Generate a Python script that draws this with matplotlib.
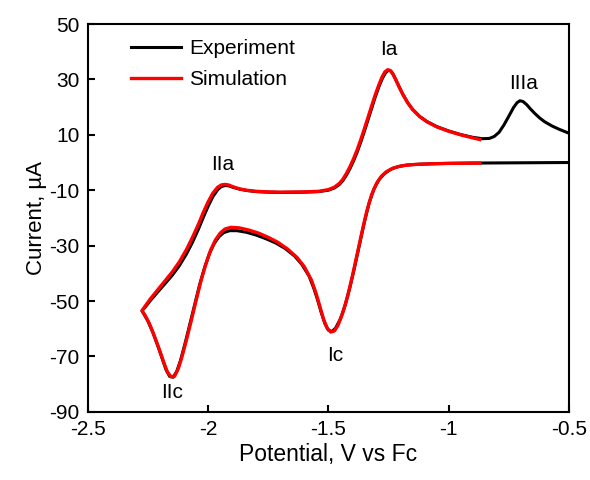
import matplotlib
matplotlib.use('Agg')
from matplotlib import pyplot as plt

plt.rcParams['font.family'] = ['Liberation Sans', 'DejaVu Sans']
plt.rcParams['axes.unicode_minus'] = False

# Experiment: cathodic sweep from -0.5 V to the vertex, then back
exp_x = [-0.50, -0.70, -0.90, -1.05, -1.12, -1.17, -1.20, -1.23, -1.25, -1.27, -1.29, -1.31, -1.33,
         -1.35, -1.37, -1.39, -1.41, -1.43, -1.45, -1.47, -1.485, -1.50, -1.515, -1.53, -1.545,
         -1.56, -1.58, -1.61, -1.64, -1.68, -1.72, -1.76, -1.80, -1.84, -1.88, -1.91, -1.935,
         -1.955, -1.975, -1.995, -2.015, -2.035, -2.055, -2.075, -2.095, -2.115, -2.13, -2.145,
         -2.16, -2.175, -2.19, -2.21, -2.23, -2.25, -2.265, -2.275,
         -2.26, -2.24, -2.21, -2.18, -2.15, -2.12, -2.09, -2.065, -2.04, -2.02, -2.00, -1.98,
         -1.96, -1.945, -1.93, -1.915, -1.895, -1.87, -1.84, -1.80, -1.75, -1.70, -1.60, -1.54,
         -1.50, -1.475, -1.455, -1.44, -1.425, -1.41, -1.395, -1.38, -1.365, -1.35, -1.335, -1.32,
         -1.305, -1.29, -1.275, -1.262, -1.25, -1.24, -1.23, -1.22, -1.205, -1.19, -1.17, -1.15,
         -1.12, -1.09, -1.05, -1.00, -0.95, -0.90, -0.86, -0.83, -0.81, -0.79, -0.77, -0.75,
         -0.73, -0.715, -0.703, -0.69, -0.675, -0.66, -0.64, -0.62, -0.60, -0.57, -0.54, -0.50]
exp_y = [0.0, -0.1, -0.2, -0.4, -0.6, -0.9, -1.3, -2.0, -3.0, -4.3, -6.3, -9.5, -14.5,
         -21.5, -29.5, -37.5, -45, -51.5, -56.5, -59.8, -61.0, -60.5, -58, -54, -49.5,
         -45.5, -41, -36.8, -33.8, -31, -29, -27.5, -26.2, -25.2, -24.6, -24.6, -25.3,
         -26.8, -29.3, -33, -38, -44, -51, -58, -65, -71.5, -75.3, -77.5,
         -77.2, -74.8, -71, -66, -61.3, -57.3, -55, -53.5,
         -52, -49.8, -46.8, -43.8, -40.8, -37.3, -33, -28.8, -24, -19.8, -15.8, -12.3,
         -9.8, -8.7, -8.3, -8.4, -9.0, -9.6, -10.1, -10.5, -10.7, -10.8, -10.7, -10.5,
         -10, -9.2, -8, -6.6, -4.6, -2.2, 0.6, 3.8, 7.4, 11.3, 15.4, 19.6,
         23.6, 27.3, 30.4, 32.4, 33.3, 33.0, 31.8, 30, 27.2, 24.6, 21.6, 19.2,
         16.6, 14.8, 13, 11.4, 10.1, 9.1, 8.6, 8.7, 9.4, 10.9, 13.5, 16.6,
         19.8, 21.6, 22.3, 22.0, 20.9, 19.4, 17.6, 16.0, 14.7, 13.2, 12.0, 10.6]

# Simulation: same sweep, -0.87 V to the vertex and back
sim_x = [-0.87, -1.00, -1.08, -1.14, -1.18, -1.21, -1.24, -1.26, -1.28, -1.30, -1.32, -1.34,
         -1.36, -1.38, -1.40, -1.42, -1.44, -1.46, -1.475, -1.49, -1.505, -1.52, -1.535, -1.55,
         -1.57, -1.60, -1.63, -1.67, -1.71, -1.75, -1.79, -1.83, -1.87, -1.905, -1.93, -1.95,
         -1.97, -1.99, -2.01, -2.03, -2.05, -2.07, -2.09, -2.11, -2.125, -2.14, -2.155, -2.17,
         -2.185, -2.205, -2.225, -2.245, -2.262, -2.275,
         -2.26, -2.24, -2.21, -2.18, -2.15, -2.12, -2.09, -2.065, -2.04, -2.02, -2.00, -1.98,
         -1.96, -1.945, -1.93, -1.915, -1.895, -1.87, -1.84, -1.80, -1.75, -1.70, -1.60, -1.54,
         -1.50, -1.475, -1.455, -1.44, -1.425, -1.41, -1.395, -1.38, -1.365, -1.35, -1.335, -1.32,
         -1.305, -1.29, -1.277, -1.265, -1.253, -1.242, -1.232, -1.22, -1.205, -1.19, -1.17, -1.15,
         -1.12, -1.09, -1.05, -1.00, -0.95, -0.90, -0.87]
sim_y = [-0.2, -0.3, -0.5, -0.7, -1.0, -1.5, -2.4, -3.4, -5.0, -7.6, -11.6, -17.5,
         -25, -33, -41, -48.3, -54.3, -58.8, -60.8, -61.2, -59.8, -56.5, -52, -47.5,
         -42.5, -37.6, -34.3, -31.2, -28.8, -27, -25.5, -24.4, -23.6, -23.4, -24, -25.5,
         -28, -31.7, -36.8, -42.8, -49.8, -57, -64, -70.5, -74.6, -77.2, -77.3, -75.5,
         -72, -67, -62.3, -58, -55.2, -53.5,
         -51.6, -49.2, -46, -42.8, -39.6, -35.9, -31.4, -27, -22.2, -18, -14.2, -11,
         -8.9, -8.1, -7.9, -8.1, -8.8, -9.5, -10.0, -10.4, -10.6, -10.7, -10.6, -10.4,
         -9.8, -8.9, -7.6, -6.1, -4.0, -1.5, 1.4, 4.6, 8.3, 12.2, 16.3, 20.4,
         24.4, 28, 30.8, 32.7, 33.5, 33.2, 32, 30, 27.2, 24.6, 21.6, 19.2,
         16.6, 14.7, 12.9, 11.3, 10, 8.9, 8.3]

peak_names = ['Ia', 'IIa', 'IIIa', 'Ic', 'IIc']
peak_x = [-1.25, -1.94, -0.69, -1.47, -2.15]
peak_y = [40.8, -0.8, 28.5, -69.5, -83]

fig = plt.figure(figsize=(5.9, 4.8), dpi=100)
ax = fig.add_axes([0.149, 0.142, 0.815, 0.808])

ax.plot(exp_x, exp_y, color='black', linewidth=2.2, label='Experiment', solid_joinstyle='round')
ax.plot(sim_x, sim_y, color='#ff0000', linewidth=2.4, label='Simulation', solid_joinstyle='round')

for name, px, py in zip(peak_names, peak_x, peak_y):
    ax.text(px, py, name, fontsize=15, ha='center', va='center')

ax.set_xlim(-2.5, -0.5)
ax.set_ylim(-90, 50)
ax.set_xticks([-2.5, -2, -1.5, -1, -0.5])
ax.set_xticklabels(['-2.5', '-2', '-1.5', '-1', '-0.5'])
ax.set_yticks(range(-90, 51, 20))
ax.tick_params(direction='in', length=5, width=1.5, labelsize=15, pad=6)
for s in ax.spines.values():
    s.set_linewidth(1.5)

ax.set_xlabel('Potential, V vs Fc', fontsize=16.5, labelpad=3)
ax.set_ylabel('Current, µA', fontsize=16, labelpad=2)

ax.legend(loc='upper left', bbox_to_anchor=(0.05, 1.01), frameon=False, fontsize=15,
          handlelength=2.4, handletextpad=0.4, labelspacing=0.6)

plt.savefig('out.png', dpi=100)
